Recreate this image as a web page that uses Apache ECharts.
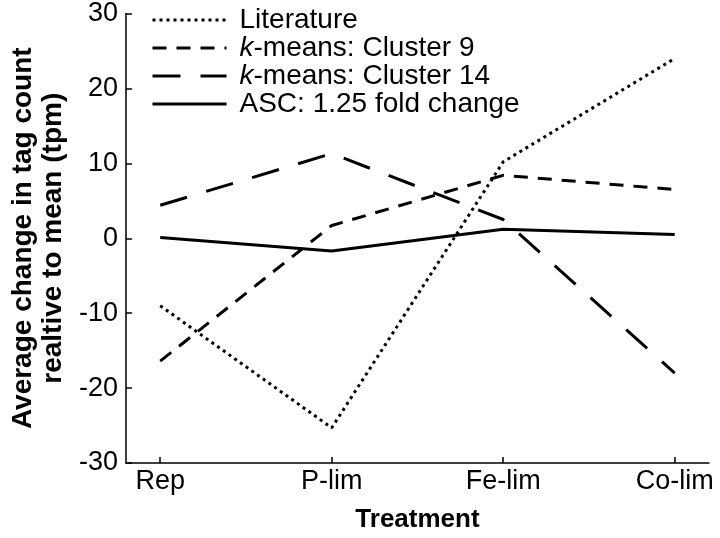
<!DOCTYPE html>
<html><head><meta charset="utf-8">
<script src="https://cdn.jsdelivr.net/npm/echarts@6/dist/echarts.min.js"></script>
<style>html,body{margin:0;padding:0;background:#fff}#c{width:720px;height:538px}</style>
</head><body><div id="c"></div>
<script>
var categories = ['Rep', 'P-lim', 'Fe-lim', 'Co-lim'];
var literature = [-9.0, -25.3, 10.2, 24.0];
var cluster9 = [-16.4, 1.7, 8.4, 6.5];
var cluster14 = [4.4, 11.3, 2.5, -18.0];
var asc = [0.1, -1.7, 1.2, 0.5];
var seriesNames = ['Literature', 'k-means: Cluster 9', 'k-means: Cluster 14', 'ASC: 1.25 fold change'];

function pairs(arr){ return arr.map(function(v,i){ return [i, v]; }); }
var idx = categories.map(function(c,i){ return i; });
var font = "'Liberation Sans', Arial, sans-serif";

var chart = echarts.init(document.getElementById('c'));
chart.setOption({
  animation: false,
  backgroundColor: '#fff',
  grid: {left: 123, right: 11, top: 13, bottom: 67, containLabel: false},
  legend: {
    orient: 'vertical', left: 146, top: 1, itemWidth: 74, itemHeight: 14, itemGap: 0,
    itemStyle: {opacity: 0},
    lineStyle: {width: 3},
    textStyle: {fontFamily: font, fontSize: 28, color: '#000', lineHeight: 28, padding: [0, 0, 0, 8],
      rich: {i: {fontStyle: 'italic', fontFamily: font, fontSize: 28, color: '#000', lineHeight: 28}}},
    formatter: function(n){ return n.replace(/^k-/, '{i|k}-'); },
    data: seriesNames
  },
  xAxis: {
    type: 'value', min: -0.2, max: 3.2,
    name: 'Treatment', nameLocation: 'middle', nameGap: 44,
    nameTextStyle: {fontFamily: font, fontSize: 26, fontWeight: 'bold', color: '#000'},
    axisLine: {show: true, onZero: false, lineStyle: {color: '#000', width: 1.5}},
    axisTick: {show: true, inside: true, length: 6, customValues: idx, lineStyle: {color: '#000', width: 1.5}},
    axisLabel: {customValues: idx, fontFamily: font, fontSize: 27, color: '#000', margin: 5,
      formatter: function(v){ return categories[Math.round(v)]; }},
    splitLine: {show: false}
  },
  yAxis: {
    type: 'value', min: -30, max: 30, interval: 10,
    name: 'Average change in tag count\nrealtive to mean (tpm)', nameLocation: 'middle', nameGap: 57,
    nameTextStyle: {fontFamily: font, fontSize: 28, fontWeight: 'bold', color: '#000', lineHeight: 30},
    axisLine: {show: true, onZero: false, lineStyle: {color: '#000', width: 1.5}},
    axisTick: {show: true, inside: true, length: 6, lineStyle: {color: '#000', width: 1.5}},
    axisLabel: {fontFamily: font, fontSize: 27, color: '#000', margin: 8},
    splitLine: {show: false}
  },
  series: [
    {name: seriesNames[0], type: 'line', data: pairs(literature), showSymbol: false, symbol: 'none',
     lineStyle: {color: '#000', width: 3, type: [3, 4]}, itemStyle: {color: '#000'}},
    {name: seriesNames[1], type: 'line', data: pairs(cluster9), showSymbol: false, symbol: 'none',
     lineStyle: {color: '#000', width: 3, type: [14, 10]}, itemStyle: {color: '#000'}},
    {name: seriesNames[2], type: 'line', data: pairs(cluster14), showSymbol: false, symbol: 'none',
     lineStyle: {color: '#000', width: 3, type: [28, 20]}, itemStyle: {color: '#000'}},
    {name: seriesNames[3], type: 'line', data: pairs(asc), showSymbol: false, symbol: 'none',
     lineStyle: {color: '#000', width: 3, type: 'solid'}, itemStyle: {color: '#000'}}
  ]
});
</script></body></html>
